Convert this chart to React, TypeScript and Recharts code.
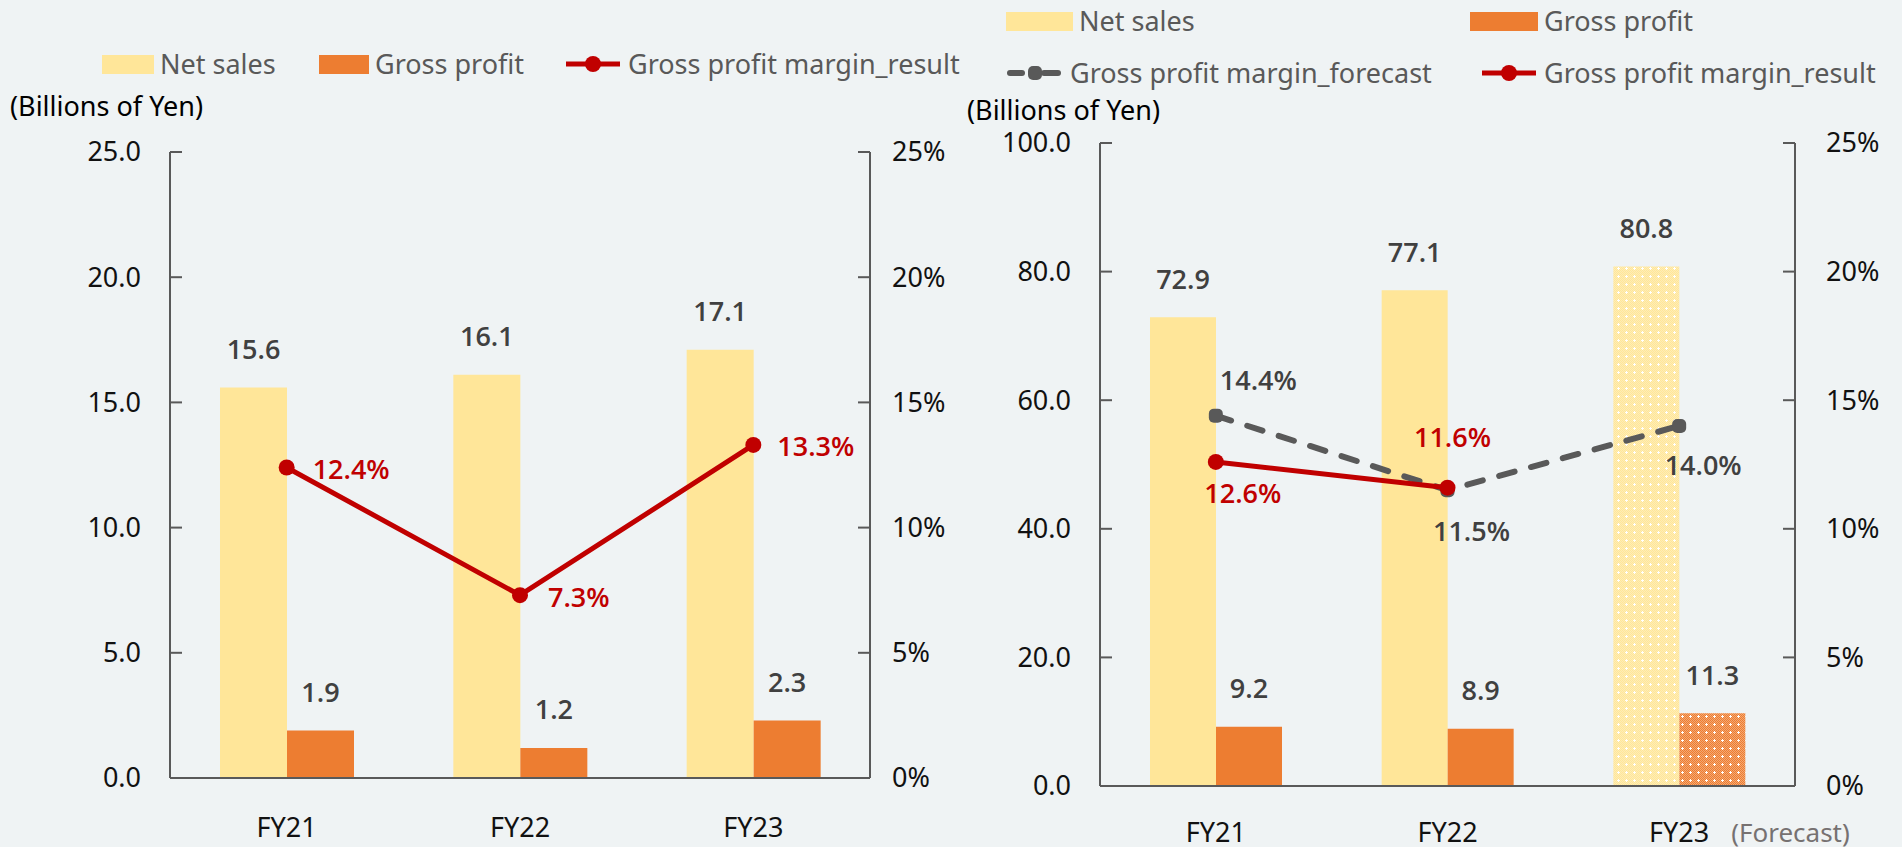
import React from "react";
import { ComposedChart, Bar, Line, XAxis, YAxis, Cell, LabelList } from "recharts";

const FONT = "'Noto Sans', 'Open Sans', sans-serif";
const LABEL_FONT = "'Open Sans', 'Noto Sans', sans-serif";
const BG = "#EFF3F4";
const NET_COLOR = "#FFE699";
const GROSS_COLOR = "#ED7D31";
const RESULT_COLOR = "#C00000";
const FORECAST_COLOR = "#595959";
const AXIS_COLOR = "#595959";
const LABEL_COLOR = "#404040";

// left panel
const leftYears = ["FY21", "FY22", "FY23"];
const leftNetSales = [15.6, 16.1, 17.1];
const leftGrossProfit = [1.9, 1.2, 2.3];
const leftMargin = [12.4, 7.3, 13.3];

// right panel
const rightYears = ["FY21", "FY22", "FY23"];
const rightNetSales = [72.9, 77.1, 80.8];
const rightGrossProfit = [9.2, 8.9, 11.3];
const rightMarginResult: (number | null)[] = [12.6, 11.6, null];
const rightMarginForecast = [14.4, 11.5, 14.0];
const rightIsForecast = [false, false, true];

const leftAmountTicks = [0, 5, 10, 15, 20, 25];
const rightAmountTicks = [0, 20, 40, 60, 80, 100];
const percentTicks = [0, 5, 10, 15, 20, 25];

const leftData = leftYears.map((year, i) => ({
  year,
  net: leftNetSales[i],
  gross: leftGrossProfit[i],
  margin: leftMargin[i],
}));

const rightData = rightYears.map((year, i) => ({
  year,
  net: rightNetSales[i],
  gross: rightGrossProfit[i],
  result: rightMarginResult[i],
  forecast: rightMarginForecast[i],
  isForecast: rightIsForecast[i],
}));

const fmt1 = (v: number) => v.toFixed(1);
const fmtPct = (v: number) => `${v}%`;

// tick marks point into the plot, so they are drawn by the tick itself
const AmountTick = (props: any) => {
  const { y, payload, axisX, side, margin } = props;
  const v = payload.value;
  const inward = side === "left" ? 12 : -12;
  const tx = side === "left" ? axisX - margin : axisX + margin;
  return (
    <g>
      {v !== 0 && (
        <line x1={axisX} x2={axisX + inward} y1={y} y2={y} stroke={AXIS_COLOR} strokeWidth={2} />
      )}
      <text
        x={tx}
        y={y}
        dy="0.35em"
        textAnchor={side === "left" ? "end" : "start"}
        fill="#111"
        fontSize={27}
        fontFamily={FONT}
      >
        {props.format(v)}
      </text>
    </g>
  );
};

const YearTick = (props: any) => {
  const { x, y, payload, forecastFlags } = props;
  const forecast = forecastFlags ? forecastFlags[payload.index] : false;
  return (
    <g>
      <text x={x} y={y} dy="0.35em" textAnchor="middle" fill="#111" fontSize={27} fontFamily={FONT}>
        {payload.value}
      </text>
      {forecast && (
        <text x={x + 52} y={y} dy="0.35em" textAnchor="start" fill="#767171" fontSize={26} fontFamily={FONT}>
          (Forecast)
        </text>
      )}
    </g>
  );
};

const BarValue = (props: any) => {
  const { x = 0, y = 0, width = 0, value } = props;
  return (
    <text
      x={x + width / 2}
      y={y - 38}
      dy="0.35em"
      textAnchor="middle"
      fill={LABEL_COLOR}
      fontSize={27}
      fontWeight={600}
      fontFamily={LABEL_FONT}
    >
      {fmt1(value)}
    </text>
  );
};

type Place = { dx: number; dy: number; anchor: "start" | "middle" };

const makePctLabel = (places: Place[], color: string) => (props: any) => {
  const { value, index } = props;
  if (value == null) return null;
  const x = props.x ?? props.viewBox?.x ?? 0;
  const y = props.y ?? props.viewBox?.y ?? 0;
  const p = places[index] ?? places[0];
  return (
    <text
      x={x + p.dx}
      y={y + p.dy}
      dy="0.35em"
      textAnchor={p.anchor}
      fill={color}
      fontSize={27}
      fontWeight={600}
      fontFamily={LABEL_FONT}
    >
      {`${value.toFixed(1)}%`}
    </text>
  );
};

const leftPctPlaces: Place[] = [
  { dx: 26, dy: 2, anchor: "start" },
  { dx: 28, dy: 2, anchor: "start" },
  { dx: 24, dy: 2, anchor: "start" },
];
const resultPlaces: Place[] = [
  { dx: 27, dy: 32, anchor: "middle" },
  { dx: 5, dy: -50, anchor: "middle" },
];
const forecastPlaces: Place[] = [
  { dx: 4, dy: -35, anchor: "start" },
  { dx: 24, dy: 41, anchor: "middle" },
  { dx: 24, dy: 40, anchor: "middle" },
];

const ForecastDot = (props: any) => {
  const { cx, cy, index } = props;
  if (cx == null || cy == null) return null;
  return <rect key={`fd-${index}`} x={cx - 7} y={cy - 7} width={14} height={14} rx={5} fill={FORECAST_COLOR} />;
};

const checkerCells = Array.from({ length: 64 }, (_, k) => [k % 8, Math.floor(k / 8)]).filter(
  ([i, j]) => (i + j) % 2 === 0
);

const Hatch = ({ id, base, light }: { id: string; base: string; light: string }) => (
  <pattern id={id} width={8} height={8} patternUnits="userSpaceOnUse">
    <rect width={8} height={8} fill={base} />
    {checkerCells.map(([i, j]) => (
      <rect key={`${i}-${j}`} x={i} y={j} width={1} height={1} fill={light} />
    ))}
    <rect x={3} y={4} width={3} height={1} fill="#fff" />
    <rect x={4} y={3} width={1} height={3} fill="#fff" />
  </pattern>
);

const Swatch = ({ color, w }: { color: string; w: number }) => (
  <span style={{ display: "inline-block", width: w, height: 19, background: color }} />
);

const LineSwatch = ({ color, dashed }: { color: string; dashed?: boolean }) => (
  <svg width={58} height={20} style={{ display: "block" }}>
    {dashed ? (
      <>
        <line x1={4} x2={16} y1={10} y2={10} stroke={color} strokeWidth={6} strokeLinecap="round" />
        <line x1={38} x2={52} y1={10} y2={10} stroke={color} strokeWidth={6} strokeLinecap="round" />
        <rect x={22} y={3} width={14} height={14} rx={5} fill={color} />
      </>
    ) : (
      <>
        <line x1={2} x2={56} y1={10} y2={10} stroke={color} strokeWidth={5} />
        <circle cx={29} cy={10} r={8} fill={color} />
      </>
    )}
  </svg>
);

const legendText: React.CSSProperties = {
  fontFamily: FONT,
  fontSize: 27,
  lineHeight: "30px",
  color: "#595959",
  whiteSpace: "nowrap",
};

const LegendItem = ({ left, top, mark, text }: { left: number; top: number; mark: React.ReactNode; text: string }) => (
  <div style={{ position: "absolute", left, top, display: "flex", alignItems: "center", gap: 6, transform: "translateY(-50%)" }}>
    {mark}
    <span style={legendText}>{text}</span>
  </div>
);

const unitStyle: React.CSSProperties = {
  position: "absolute",
  fontFamily: FONT,
  fontSize: 27,
  lineHeight: "30px",
  color: "#000",
  whiteSpace: "nowrap",
  transform: "translateY(-50%)",
};

export default function App() {
  return (
    <div style={{ position: "absolute", left: 0, top: 0, width: 1902, height: 847, background: BG, overflow: "hidden" }}>
      {/* left panel */}
      <div style={{ position: "absolute", left: 0, top: 0 }}>
        <ComposedChart
          width={950}
          height={847}
          data={leftData}
          margin={{ top: 152, right: 0, bottom: 9, left: 0 }}
          barGap={0}
        >
          <XAxis
            dataKey="year"
            height={60}
            axisLine={{ stroke: AXIS_COLOR, strokeWidth: 2 }}
            tickLine={false}
            tickSize={0}
            tickMargin={50}
            tick={(p: any) => <YearTick {...p} />}
          />
          <YAxis
            yAxisId="amt"
            width={170}
            domain={[0, 25]}
            ticks={leftAmountTicks}
            interval={0}
            axisLine={{ stroke: AXIS_COLOR, strokeWidth: 2 }}
            tickLine={false}
            tickSize={0}
            tick={(p: any) => <AmountTick {...p} axisX={170} side="left" margin={29} format={fmt1} />}
          />
          <YAxis
            yAxisId="pct"
            orientation="right"
            width={80}
            domain={[0, 25]}
            ticks={percentTicks}
            interval={0}
            axisLine={{ stroke: AXIS_COLOR, strokeWidth: 2 }}
            tickLine={false}
            tickSize={0}
            tick={(p: any) => <AmountTick {...p} axisX={870} side="right" margin={22} format={fmtPct} />}
          />
          <Bar yAxisId="amt" dataKey="net" fill={NET_COLOR} barSize={67} isAnimationActive={false}>
            <LabelList dataKey="net" content={<BarValue />} />
          </Bar>
          <Bar yAxisId="amt" dataKey="gross" fill={GROSS_COLOR} barSize={67} isAnimationActive={false}>
            <LabelList dataKey="gross" content={<BarValue />} />
          </Bar>
          <Line
            yAxisId="pct"
            dataKey="margin"
            stroke={RESULT_COLOR}
            strokeWidth={5}
            dot={{ r: 8, fill: RESULT_COLOR, stroke: "none" }}
            activeDot={false}
            isAnimationActive={false}
          >
            <LabelList dataKey="margin" content={makePctLabel(leftPctPlaces, RESULT_COLOR)} />
          </Line>
        </ComposedChart>
      </div>

      {/* right panel */}
      <div style={{ position: "absolute", left: 950, top: 0 }}>
        <ComposedChart
          width={952}
          height={847}
          data={rightData}
          margin={{ top: 143, right: 0, bottom: 6, left: 0 }}
          barGap={0}
        >
          <defs>
            <Hatch id="netForecast" base="#FFEDB5" light={NET_COLOR} />
            <Hatch id="grossForecast" base="#F4A873" light={GROSS_COLOR} />
          </defs>
          <XAxis
            dataKey="year"
            height={55}
            axisLine={{ stroke: AXIS_COLOR, strokeWidth: 2 }}
            tickLine={false}
            tickSize={0}
            tickMargin={47}
            tick={(p: any) => <YearTick {...p} forecastFlags={rightIsForecast} />}
          />
          <YAxis
            yAxisId="amt"
            width={150}
            domain={[0, 100]}
            ticks={rightAmountTicks}
            interval={0}
            axisLine={{ stroke: AXIS_COLOR, strokeWidth: 2 }}
            tickLine={false}
            tickSize={0}
            tick={(p: any) => <AmountTick {...p} axisX={150} side="left" margin={29} format={fmt1} />}
          />
          <YAxis
            yAxisId="pct"
            orientation="right"
            width={107}
            domain={[0, 25]}
            ticks={percentTicks}
            interval={0}
            axisLine={{ stroke: AXIS_COLOR, strokeWidth: 2 }}
            tickLine={false}
            tickSize={0}
            tick={(p: any) => <AmountTick {...p} axisX={845} side="right" margin={31} format={fmtPct} />}
          />
          <Bar yAxisId="amt" dataKey="net" fill={NET_COLOR} barSize={66} isAnimationActive={false}>
            {rightData.map((d) => (
              <Cell key={d.year} fill={d.isForecast ? "url(#netForecast)" : NET_COLOR} />
            ))}
            <LabelList dataKey="net" content={<BarValue />} />
          </Bar>
          <Bar yAxisId="amt" dataKey="gross" fill={GROSS_COLOR} barSize={66} isAnimationActive={false}>
            {rightData.map((d) => (
              <Cell key={d.year} fill={d.isForecast ? "url(#grossForecast)" : GROSS_COLOR} />
            ))}
            <LabelList dataKey="gross" content={<BarValue />} />
          </Bar>
          <Line
            yAxisId="pct"
            dataKey="forecast"
            stroke={FORECAST_COLOR}
            strokeWidth={6}
            strokeDasharray="16 17"
            strokeLinecap="round"
            dot={(p: any) => <ForecastDot {...p} />}
            activeDot={false}
            isAnimationActive={false}
          >
            <LabelList dataKey="forecast" content={makePctLabel(forecastPlaces, "#404040")} />
          </Line>
          <Line
            yAxisId="pct"
            dataKey="result"
            stroke={RESULT_COLOR}
            strokeWidth={5}
            dot={{ r: 8, fill: RESULT_COLOR, stroke: "none" }}
            activeDot={false}
            connectNulls={false}
            isAnimationActive={false}
          >
            <LabelList dataKey="result" content={makePctLabel(resultPlaces, RESULT_COLOR)} />
          </Line>
        </ComposedChart>
      </div>

      {/* legends and unit labels */}
      <LegendItem left={102} top={64} mark={<Swatch color={NET_COLOR} w={52} />} text="Net sales" />
      <LegendItem left={319} top={64} mark={<Swatch color={GROSS_COLOR} w={50} />} text="Gross profit" />
      <LegendItem left={564} top={64} mark={<LineSwatch color={RESULT_COLOR} />} text="Gross profit margin_result" />
      <div style={{ ...unitStyle, left: 10, top: 106 }}>(Billions of Yen)</div>

      <LegendItem left={1006} top={21} mark={<Swatch color={NET_COLOR} w={67} />} text="Net sales" />
      <LegendItem left={1470} top={21} mark={<Swatch color={GROSS_COLOR} w={68} />} text="Gross profit" />
      <LegendItem left={1006} top={73} mark={<LineSwatch color={FORECAST_COLOR} dashed />} text="Gross profit margin_forecast" />
      <LegendItem left={1480} top={73} mark={<LineSwatch color={RESULT_COLOR} />} text="Gross profit margin_result" />
      <div style={{ ...unitStyle, left: 967, top: 110 }}>(Billions of Yen)</div>
    </div>
  );
}
